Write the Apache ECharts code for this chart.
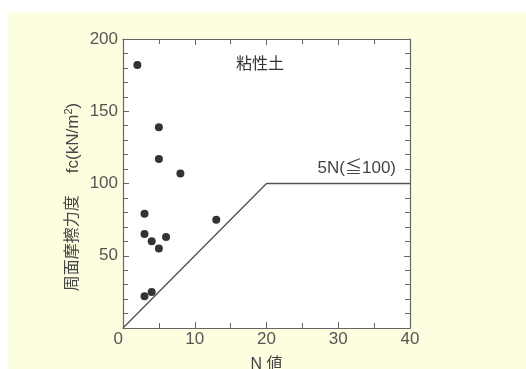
<!DOCTYPE html>
<html>
<head>
<meta charset="utf-8">
<script src="https://cdn.jsdelivr.net/npm/echarts@6/dist/echarts.min.js"></script>
<style>
html, body { margin: 0; padding: 0; }
#chart { width: 526px; height: 369px; }
</style>
</head>
<body>
<div id="chart"></div>
<script>
// 粘性土 周面摩擦力度 vs N値
var n_values = [2, 5, 5, 8, 3, 3, 4, 5, 6, 13, 3, 4];
var fc_values = [182, 139, 117, 107, 79, 65, 60, 55, 63, 75, 22, 25];
// 5N(≦100) の折れ線
var limit_n = [0, 20, 40];
var limit_fc = [0, 100, 100];
var x_ticks = [0, 10, 20, 30, 40];
var y_ticks = [0, 50, 100, 150, 200];

var font = "'Liberation Sans', 'Noto Sans CJK JP', sans-serif";
var label_color = "#555";
var line_color = "#666";

var point_data = [];
for (var i = 0; i < n_values.length; i++) {
    point_data.push([n_values[i], fc_values[i]]);
}
var limit_data = [];
for (var j = 0; j < limit_n.length; j++) {
    limit_data.push([limit_n[j], limit_fc[j]]);
}

function make_x_axis(pos, show_label) {
    return {
        type: "value",
        position: pos,
        min: x_ticks[0],
        max: x_ticks[x_ticks.length - 1],
        interval: x_ticks[1] - x_ticks[0],
        axisLine: { show: true, onZero: false, lineStyle: { color: line_color, width: 1.2 } },
        axisTick: { show: true, inside: true, length: 6, lineStyle: { color: line_color } },
        minorTick: { show: true, splitNumber: 2, length: 5, lineStyle: { color: line_color } },
        splitLine: { show: false },
        axisLabel: {
            show: show_label, fontSize: 17, color: label_color, fontFamily: font, margin: 3,
            showMinLabel: true, showMaxLabel: true, hideOverlap: false,
            alignMinLabel: "right"
        },
        name: show_label ? "N 値" : "",
        nameLocation: "middle",
        nameGap: 29,
        nameTextStyle: { fontSize: 16, color: "#444", fontFamily: font }
    };
}
function make_y_axis(pos, show_label) {
    return {
        type: "value",
        position: pos,
        min: y_ticks[0],
        max: y_ticks[y_ticks.length - 1],
        interval: y_ticks[1] - y_ticks[0],
        axisLine: { show: true, onZero: false, lineStyle: { color: line_color, width: 1.2 } },
        axisTick: { show: true, inside: true, length: 6, lineStyle: { color: line_color } },
        minorTick: { show: true, splitNumber: 5, length: 5, lineStyle: { color: line_color } },
        splitLine: { show: false },
        axisLabel: {
            show: show_label, fontSize: 17, color: label_color, fontFamily: font, margin: 5,
            showMinLabel: true,
            formatter: function (v) { return v === 0 ? "" : String(v); }
        }
    };
}

var chart = echarts.init(document.getElementById("chart"));
var option = {
    backgroundColor: "#fdfde0",
    animation: false,
    grid: {
        left: 123, top: 39, right: 116, bottom: 41,
        outerBoundsMode: "none", containLabel: false,
        show: true, backgroundColor: "#fff", borderWidth: 0
    },
    xAxis: [make_x_axis("bottom", true), make_x_axis("top", false)],
    yAxis: [make_y_axis("left", true), make_y_axis("right", false)],
    graphic: [
        { type: "rect", shape: { x: 0, y: 0, width: 526, height: 12 }, style: { fill: "#fff" }, silent: true },
        { type: "rect", shape: { x: 0, y: 0, width: 8, height: 369 }, style: { fill: "#fff" }, silent: true },
        {
            type: "text", x: 73, y: 197, rotation: Math.PI / 2,
            style: {
                text: "{a|周面摩擦力度}{g|}{b|fc(kN/m}{s|2}{b|)}",
                rich: {
                    a: { fontSize: 16, fill: "#444", fontFamily: font },
                    g: { width: 22 },
                    b: { fontSize: 17, fill: "#444", fontFamily: font },
                    s: { fontSize: 11, fill: "#444", fontFamily: font, verticalAlign: "top", padding: [0, 0, 8, 0] }
                },
                align: "center", verticalAlign: "middle"
            }
        },
        {
            type: "text", x: 260, y: 65,
            style: { text: "粘性土", fontSize: 16, fill: "#333", fontFamily: font, align: "center", verticalAlign: "middle" }
        },
        {
            type: "text", x: 396, y: 168,
            style: { text: "5N(≦100)", fontSize: 17, fill: "#444", fontFamily: font, align: "right", verticalAlign: "middle" }
        }
    ],
    series: [
        {
            type: "line",
            data: limit_data,
            symbol: "none",
            lineStyle: { color: "#555", width: 1.4 },
            silent: true
        },
        {
            type: "scatter",
            data: point_data,
            symbol: "circle",
            symbolSize: 8,
            itemStyle: { color: "#000" }
        }
    ]
};
chart.setOption(option);
</script>
</body>
</html>
